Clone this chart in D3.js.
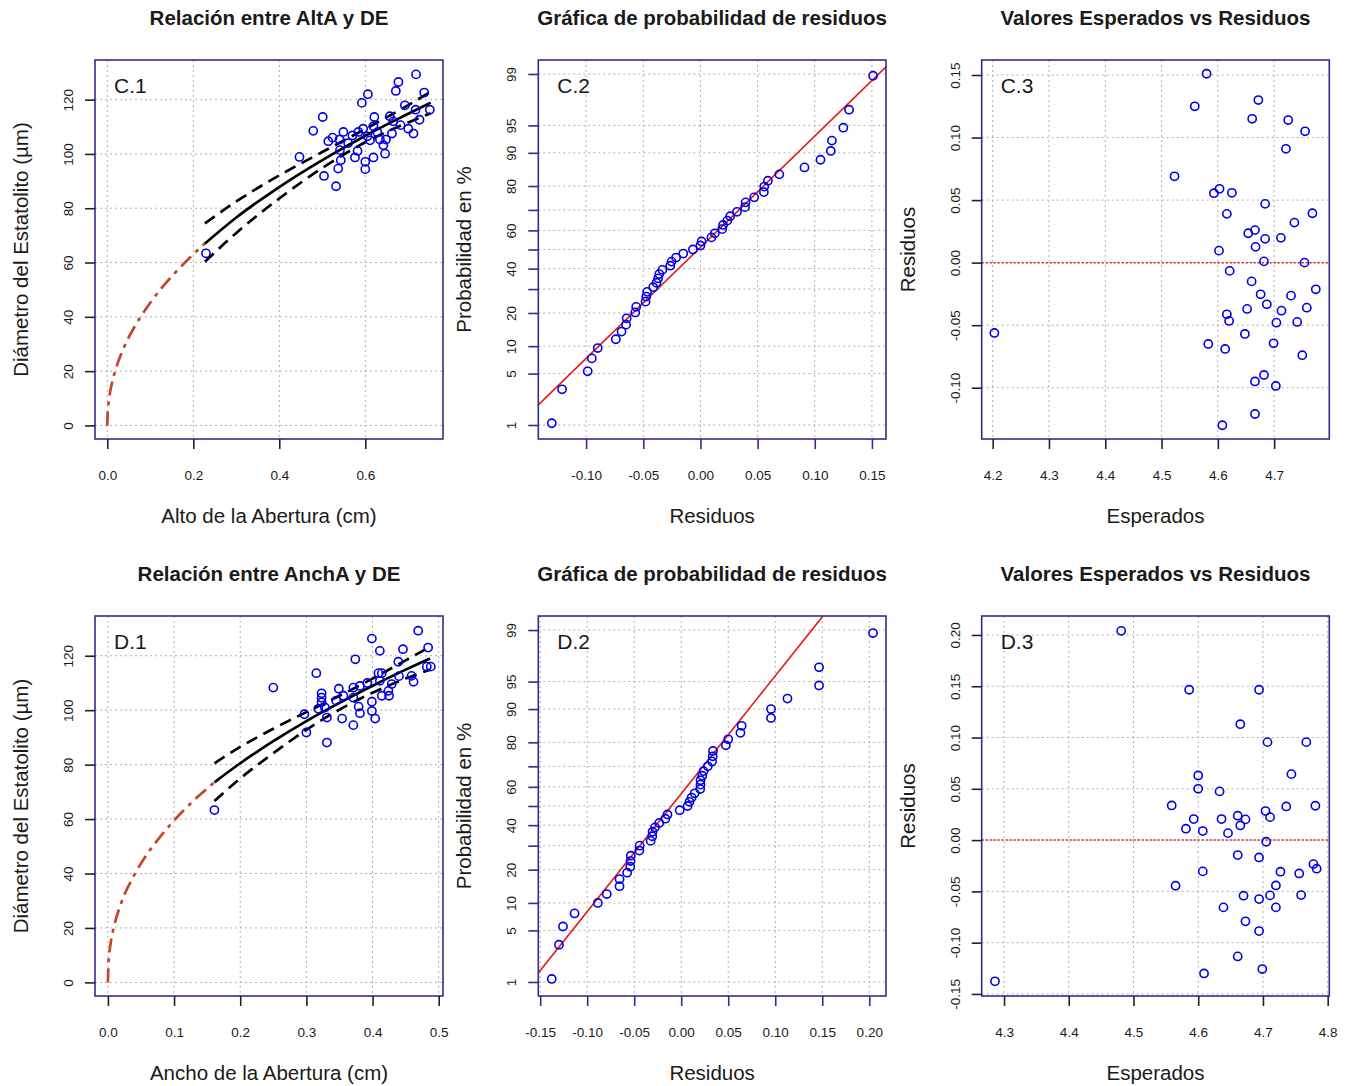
<!DOCTYPE html>
<html>
<head>
<meta charset="utf-8">
<script src="https://cdn.jsdelivr.net/npm/d3@7"></script>
<style>
  body { margin: 0; background: #fff; }
  svg { display: block; font-family: "Liberation Sans", Arial, Helvetica, sans-serif; }
</style>
</head>
<body>
<svg id="chart" width="1349" height="1086"></svg>
<script>
// ---- data: panel C (Alto de la Abertura) ----
const altoC = [0.718, 0.677, 0.671, 0.606, 0.592, 0.737, 0.692, 0.750, 0.717, 0.501, 0.621, 0.657, 0.726, 0.479, 0.682, 0.700,
               0.712, 0.549, 0.524, 0.514, 0.540, 0.584, 0.595, 0.619, 0.611, 0.634, 0.648, 0.662, 0.642, 0.582, 0.541, 0.447,
               0.576, 0.619, 0.646, 0.543, 0.600, 0.537, 0.600, 0.504, 0.532, 0.2295, 0.560, 0.605, 0.628, 0.570, 0.665];
const deC =   [129.3, 126.5, 123.2, 122.0, 118.8, 122.6, 117.9, 116.3, 116.3, 113.6, 113.6, 113.9, 112.6, 108.5, 110.6, 109.3,
               107.5, 108.1, 106.0, 104.7, 105.3, 108.1, 109.3, 110.2, 105.0, 105.3, 105.3, 107.5, 103.2, 101.1, 101.4, 98.9,
               98.7, 98.7, 100.1, 97.7, 97.1, 94.6, 94.4, 91.9, 88.1, 63.4, 104.0, 106.5, 108.0, 106.8, 112.0];
// fitted curve and confidence bands
const fitCx = [0.227, 0.3, 0.4, 0.5, 0.6, 0.7, 0.752];
const fitC  = [67.0, 76.6, 87.8, 97.7, 106.7, 114.8, 118.9];
const uppC  = [74.4, 82.5, 92.1, 100.7, 109.2, 118.0, 122.9];
const lowC  = [60.3, 70.9, 83.6, 94.8, 104.3, 111.6, 115.0];
const extCx = [0, 0.001, 0.002, 0.005, 0.01, 0.02, 0.04, 0.06, 0.08, 0.10, 0.13, 0.16, 0.19, 0.227];
const extC  = [0, 5.0, 6.9, 10.8, 15.0, 20.9, 29.2, 35.4, 40.6, 45.2, 51.3, 56.6, 61.5, 67.0];
// residuals vs fitted (log scale)
const espC = [4.580, 4.559, 4.672, 4.661, 4.725, 4.755, 4.721, 4.523, 4.603, 4.593, 4.625, 4.684, 4.616, 4.768, 4.736, 4.666,
              4.654, 4.684, 4.712, 4.667, 4.602, 4.682, 4.754, 4.621, 4.660, 4.774, 4.676, 4.730, 4.687, 4.758, 4.652, 4.713,
              4.616, 4.620, 4.704, 4.741, 4.203, 4.648, 4.583, 4.699, 4.613, 4.750, 4.682, 4.666, 4.703, 4.666, 4.608];
const resC = [0.151, 0.125, 0.130, 0.115, 0.114, 0.105, 0.091, 0.069, 0.059, 0.0555, 0.0558, 0.047, 0.039, 0.0395, 0.032, 0.026,
              0.0235, 0.019, 0.0198, 0.0126, 0.0096, 0.001, 0.000, -0.0066, -0.015, -0.0213, -0.0253, -0.0264, -0.0333, -0.036, -0.037, -0.0384,
              -0.0413, -0.0466, -0.048, -0.0474, -0.0562, -0.057, -0.065, -0.0645, -0.069, -0.074, -0.0898, -0.095, -0.0986, -0.121, -0.130];
const qqCx = [-0.1418, 0.1623];
const qqCz = [-2.06, 2.42];

// ---- data: panel D (Ancho de la Abertura) ----
const anchoD = [0.469, 0.399, 0.484, 0.446, 0.411, 0.374, 0.439, 0.482, 0.488, 0.315, 0.409, 0.414, 0.459, 0.462, 0.411,
                0.429, 0.250, 0.349, 0.371, 0.381, 0.323, 0.323, 0.356, 0.424, 0.414, 0.425, 0.399, 0.371, 0.328, 0.297,
                0.379, 0.381, 0.399, 0.318, 0.331, 0.354, 0.404, 0.371, 0.300, 0.331, 0.161, 0.323, 0.345, 0.392, 0.440];
const deD =    [129.2, 126.3, 123.0, 122.4, 121.8, 118.7, 117.8, 116.0, 116.0, 113.6, 113.6, 113.6, 112.6, 110.4, 110.8,
                109.6, 108.3, 107.9, 108.3, 108.9, 106.2, 104.6, 105.3, 107.1, 105.3, 105.3, 103.1, 104.6, 101.0, 98.5,
                101.3, 98.9, 99.7, 100.5, 97.3, 96.9, 96.9, 94.5, 91.8, 88.1, 63.3, 102.9, 103.5, 110.0, 112.5];
const fitDx = [0.161, 0.2, 0.25, 0.3, 0.35, 0.4, 0.45, 0.487];
const fitD  = [73.5, 80.5, 88.6, 96.0, 102.7, 109.0, 114.9, 119.0];
const uppD  = [80.5, 86.5, 93.2, 99.3, 105.3, 111.6, 118.3, 123.3];
const lowD  = [66.6, 74.9, 84.2, 92.8, 100.2, 106.4, 111.6, 114.9];
const extDx = [0, 0.001, 0.003, 0.005, 0.01, 0.02, 0.04, 0.06, 0.08, 0.10, 0.13, 0.161];
const extD  = [0, 7.7, 12.5, 15.7, 21.3, 29.1, 39.5, 47.4, 53.8, 59.5, 66.9, 73.5];
const espD = [4.481, 4.586, 4.694, 4.665, 4.707, 4.767, 4.600, 4.744, 4.600, 4.633, 4.559, 4.736, 4.781, 4.704, 4.593,
              4.636, 4.661, 4.673, 4.711, 4.581, 4.607, 4.665, 4.646, 4.705, 4.661, 4.694, 4.778, 4.783, 4.607, 4.727,
              4.756, 4.565, 4.720, 4.670, 4.711, 4.759, 4.694, 4.639, 4.720, 4.673, 4.694, 4.661, 4.699, 4.609, 4.286];
const resD = [0.204, 0.1466, 0.1466, 0.113, 0.0955, 0.0955, 0.063, 0.0643, 0.050, 0.0475, 0.0338, 0.0328, 0.0335, 0.0283, 0.0205,
              0.0205, 0.0238, 0.0202, 0.0224, 0.0111, 0.0088, 0.0143, 0.0068, -0.0016, -0.0146, -0.0169, -0.0234, -0.0279, -0.0305, -0.0308,
              -0.0325, -0.0445, -0.0442, -0.0542, -0.0539, -0.0536, -0.0575, -0.0656, -0.0656, -0.0792, -0.0887, -0.1134, -0.1257, -0.130, -0.1377];
const qqDx = [-0.152, 0.1504];
const qqDz = [-2.208, 2.507];

// ---- axis ticks ----
const probTicks = [1, 5, 10, 20, 30, 40, 50, 60, 70, 80, 90, 95, 99];
const probLabels = [1, 5, 10, 20, 40, 60, 80, 90, 95, 99];
const deTicks = [0, 20, 40, 60, 80, 100, 120];
const altoTicks = [0.0, 0.2, 0.4, 0.6];
const anchoTicks = [0.0, 0.1, 0.2, 0.3, 0.4, 0.5];
const resTicksC = [-0.10, -0.05, 0.00, 0.05, 0.10, 0.15];
const resTicksD = [-0.15, -0.10, -0.05, 0.00, 0.05, 0.10, 0.15, 0.20];
const espTicksC = [4.2, 4.3, 4.4, 4.5, 4.6, 4.7];
const espTicksD = [4.3, 4.4, 4.5, 4.6, 4.7, 4.8];

const svg = d3.select("#chart");
const cols = [{x0: 95, x1: 443}, {x0: 538.3, x1: 886}, {x0: 981.7, x1: 1329.3}];
const rows = [{y0: 60, y1: 439}, {y0: 616, y1: 996}];

const BOX = "#2e2e8e", PT = "#0000e6", GRID = "#b0b0b0", TXT = "#1a1a1a";

// inverse normal cdf (Acklam) for the probability scale
function qnorm(p) {
    const a = [-39.69683028665376, 220.9460984245205, -275.9285104469687, 138.3577518672690, -30.66479806614716, 2.506628277459239];
    const b = [-54.47609879822406, 161.5858368580409, -155.6989798598866, 66.80131188771972, -13.28068155288572];
    const c = [-0.007784894002430293, -0.3223964580411365, -2.400758277161838, -2.549732539343734, 4.374664141464968, 2.938163982698783];
    const d = [0.007784695709041462, 0.3224671290700398, 2.445134137142996, 3.754408661907416];
    const pl = 0.02425;
    if (p < pl) {
        const q = Math.sqrt(-2 * Math.log(p));
        return (((((c[0]*q + c[1])*q + c[2])*q + c[3])*q + c[4])*q + c[5]) / ((((d[0]*q + d[1])*q + d[2])*q + d[3])*q + 1);
    }
    if (p <= 1 - pl) {
        const q = p - 0.5, r = q * q;
        return (((((a[0]*r + a[1])*r + a[2])*r + a[3])*r + a[4])*r + a[5])*q / (((((b[0]*r + b[1])*r + b[2])*r + b[3])*r + b[4])*r + 1);
    }
    const q = Math.sqrt(-2 * Math.log(1 - p));
    return -(((((c[0]*q + c[1])*q + c[2])*q + c[3])*q + c[4])*q + c[5]) / ((((d[0]*q + d[1])*q + d[2])*q + d[3])*q + 1);
}

function makePanel(col, row, xDomain, yDomain, id) {
    const c = cols[col], r = rows[row];
    const x = d3.scaleLinear().domain(xDomain).range([c.x0, c.x1]);
    const y = d3.scaleLinear().domain(yDomain).range([r.y1, r.y0]);
    svg.append("clipPath").attr("id", id)
        .append("rect")
        .attr("x", c.x0).attr("y", r.y0)
        .attr("width", c.x1 - c.x0).attr("height", r.y1 - r.y0);
    const g = svg.append("g");
    const plot = g.append("g").attr("clip-path", `url(#${id})`);
    return {c, r, x, y, g, plot};
}

function drawGrid(p, xt, yt) {
    p.plot.selectAll(".gx").data(xt).join("line")
        .attr("x1", d => p.x(d)).attr("x2", d => p.x(d))
        .attr("y1", p.r.y0).attr("y2", p.r.y1)
        .attr("stroke", GRID).attr("stroke-width", 1).attr("stroke-dasharray", "2,3");
    p.plot.selectAll(".gy").data(yt).join("line")
        .attr("y1", d => p.y(d)).attr("y2", d => p.y(d))
        .attr("x1", p.c.x0).attr("x2", p.c.x1)
        .attr("stroke", GRID).attr("stroke-width", 1).attr("stroke-dasharray", "2,3");
}

function drawFrame(p, opt) {
    const {c, r, g} = p;
    g.append("rect")
        .attr("x", c.x0).attr("y", r.y0)
        .attr("width", c.x1 - c.x0).attr("height", r.y1 - r.y0)
        .attr("fill", "none").attr("stroke", BOX).attr("stroke-width", 1.6);

    const ax = g.append("g")
        .attr("transform", `translate(0,${r.y1})`)
        .call(d3.axisBottom(p.x).tickValues(opt.xt).tickFormat(opt.xf).tickSize(10).tickPadding(21));
    const ay = g.append("g")
        .attr("transform", `translate(${c.x0},0)`)
        .call(d3.axisLeft(p.y).tickValues(opt.yt).tickFormat(opt.yf).tickSize(10));
    [ax, ay].forEach(a => {
        a.select(".domain").remove();
        a.selectAll(".tick line").attr("stroke", opt.tickColor || "#222").attr("stroke-width", 1.6);
        a.selectAll("text").attr("fill", TXT).style("font-size", "13.5px").style("font-family", "inherit");
    });
    ay.selectAll("text")
        .attr("transform", "rotate(-90)")
        .attr("x", 0).attr("y", -22).attr("dy", 0)
        .style("text-anchor", "middle");

    const cx = (c.x0 + c.x1) / 2, cy = (r.y0 + r.y1) / 2;
    g.append("text")
        .attr("x", cx).attr("y", r.y0 - 35)
        .style("text-anchor", "middle").style("font-size", "20.5px").style("font-weight", "bold")
        .attr("fill", TXT).text(opt.title);
    g.append("text")
        .attr("x", cx).attr("y", r.y1 + 84)
        .style("text-anchor", "middle").style("font-size", "20.5px")
        .attr("fill", TXT).text(opt.xlab);
    g.append("text")
        .attr("transform", `translate(${c.x0 - 67},${cy}) rotate(-90)`)
        .style("text-anchor", "middle").style("font-size", "20.5px")
        .attr("fill", TXT).text(opt.ylab);
    g.append("text")
        .attr("x", c.x0 + 19).attr("y", r.y0 + 33)
        .style("font-size", "21px")
        .attr("fill", TXT).text(opt.tag);
}

function drawPoints(p, xs, ys) {
    p.g.append("g").selectAll("circle")
        .data(d3.zip(xs, ys))
        .join("circle")
        .attr("cx", d => p.x(d[0]))
        .attr("cy", d => p.y(d[1]))
        .attr("r", 4.1)
        .attr("fill", "none")
        .attr("stroke", PT)
        .attr("stroke-width", 1.6);
}

function drawCurve(p, xs, ys, color, dash) {
    const line = d3.line().x(d => p.x(d[0])).y(d => p.y(d[1])).curve(d3.curveMonotoneX);
    p.plot.append("path")
        .attr("d", line(d3.zip(xs, ys)))
        .attr("fill", "none")
        .attr("stroke", color)
        .attr("stroke-width", 2.7)
        .attr("stroke-dasharray", dash);
}

// ---- relation panels (C.1 / D.1) ----
function relationPanel(col, row, id, xDom, xt, xs, ys, fx, fit, upp, low, ex, ey, txt) {
    const p = makePanel(col, row, xDom, [-5.0, 134.6], id);
    drawGrid(p, xt, deTicks);
    drawCurve(p, ex, ey, "#c4442c", "14,6,4,6");
    drawCurve(p, fx, fit, "#000", null);
    drawCurve(p, fx, upp, "#000", "12,7");
    drawCurve(p, fx, low, "#000", "12,7");
    drawPoints(p, xs, ys);
    drawFrame(p, {xt: xt, xf: d => d.toFixed(1), yt: deTicks, yf: d => String(d),
        title: txt.title, xlab: txt.xlab, ylab: "Diámetro del Estatolito (µm)", tag: txt.tag});
}

// ---- normal probability panels (C.2 / D.2) ----
function probPanel(col, row, id, xDom, xt, res, lx, lz, tag) {
    const p = makePanel(col, row, xDom, [-2.512, 2.512], id);
    const zt = probTicks.map(v => qnorm(v / 100));
    drawGrid(p, xt, zt);
    p.plot.append("line")
        .attr("x1", p.x(lx[0])).attr("y1", p.y(lz[0]))
        .attr("x2", p.x(lx[1])).attr("y2", p.y(lz[1]))
        .attr("stroke", "#e41a1a").attr("stroke-width", 1.6);
    const sorted = res.slice().sort(d3.ascending);
    const n = sorted.length;
    const zs = sorted.map((d, i) => qnorm((i + 0.5) / n));
    drawPoints(p, sorted, zs);
    drawFrame(p, {xt: xt, xf: d => d.toFixed(2), yt: zt,
        yf: (d, i) => probLabels.includes(probTicks[i]) ? String(probTicks[i]) : "",
        tickColor: BOX,
        title: "Gráfica de probabilidad de residuos", xlab: "Residuos", ylab: "Probabilidad en %", tag: tag});
}

// ---- residual panels (C.3 / D.3) ----
function residualPanel(col, row, id, xDom, yDom, xt, yt, esp, res, tag) {
    const p = makePanel(col, row, xDom, yDom, id);
    drawGrid(p, xt, yt);
    p.plot.append("line")
        .attr("x1", p.c.x0).attr("x2", p.c.x1)
        .attr("y1", p.y(0)).attr("y2", p.y(0))
        .attr("stroke", "#e41a1a").attr("stroke-width", 1.5).attr("stroke-dasharray", "2,2");
    drawPoints(p, esp, res);
    drawFrame(p, {xt: xt, xf: d => d.toFixed(1), yt: yt, yf: d => d.toFixed(2),
        title: "Valores Esperados vs Residuos", xlab: "Esperados", ylab: "Residuos", tag: tag});
}

relationPanel(0, 0, "clipC1", [-0.0286, 0.7807], altoTicks, altoC, deC, fitCx, fitC, uppC, lowC, extCx, extC,
    {title: "Relación entre AltA y DE", xlab: "Alto de la Abertura (cm)", tag: "C.1"});
probPanel(1, 0, "clipC2", [-0.1418, 0.1623], [-0.10, -0.05, 0.00, 0.05, 0.10, 0.15], resC, qqCx, qqCz, "C.2");
residualPanel(2, 0, "clipC3", [4.1805, 4.798], [-0.141, 0.162], espTicksC, resTicksC, espC, resC, "C.3");

relationPanel(0, 1, "clipD1", [-0.0195, 0.5065], anchoTicks, anchoD, deD, fitDx, fitD, uppD, lowD, extDx, extD,
    {title: "Relación entre AnchA y DE", xlab: "Ancho de la Abertura (cm)", tag: "D.1"});
probPanel(1, 1, "clipD2", [-0.152, 0.2178], resTicksD, resD, qqDx, qqDz, "D.2");
residualPanel(2, 1, "clipD3", [4.2655, 4.8025], [-0.152, 0.2185], espTicksD, resTicksD, espD, resD, "D.3");
</script>
</body>
</html>
